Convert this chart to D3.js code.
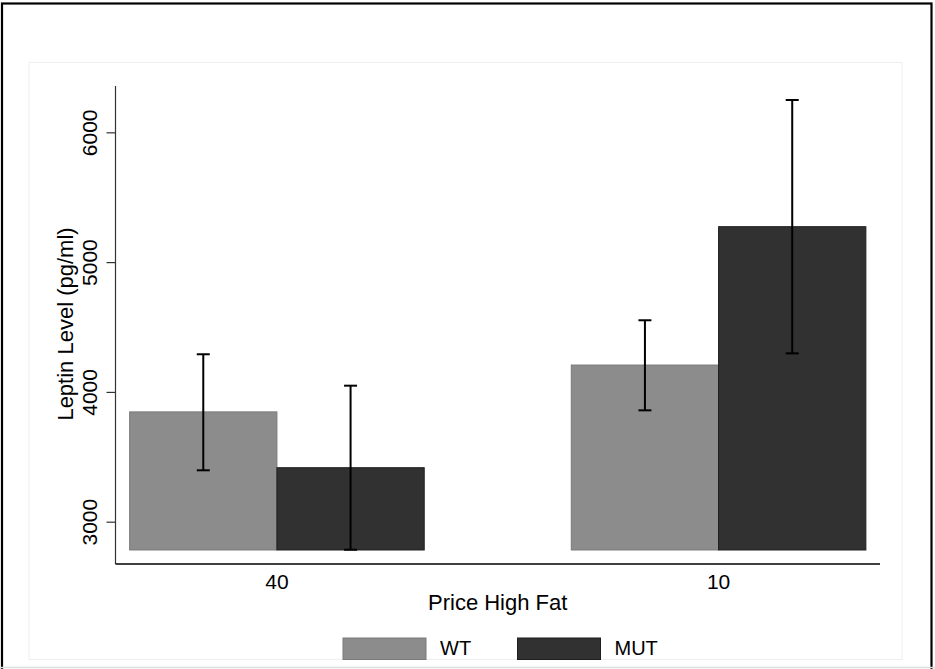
<!DOCTYPE html>
<html>
<head>
<meta charset="utf-8">
<script src="https://cdn.jsdelivr.net/npm/d3@7"></script>
<style>
  body { margin: 0; background: #fff; }
  svg { display: block; font-family: "Liberation Sans", Arial, sans-serif; }
</style>
</head>
<body>
<div id="chart"></div>
<script>
// chart data
var groups = ["40", "10"];
var series = ["WT", "MUT"];
var means = [[3846, 3416], [4207, 5273]];
var upper = [[4290, 4048], [4552, 6249]];
var lower = [[3396, 2784], [3858, 4297]];
var yTicks = [3000, 4000, 5000, 6000];
var barBase = 2782;
var colors = { WT: "#8c8c8c", MUT: "#313131" };
var strokes = { WT: "#7a7a7a", MUT: "#1e1e1e" };

var W = 935, H = 669;
var svg = d3.select("#chart").append("svg").attr("width", W).attr("height", H);

// outer frame
svg.append("rect").attr("x", 2).attr("y", 3.5).attr("width", 929.5).attr("height", 700)
  .attr("fill", "none").attr("stroke", "#000").attr("stroke-width", 2.2);
svg.append("line").attr("x1", 0).attr("x2", W).attr("y1", 667.5).attr("y2", 667.5)
  .attr("stroke", "#ddd").attr("stroke-width", 1.5);
// inner plot region
svg.append("rect").attr("x", 29).attr("y", 62.5).attr("width", 873).attr("height", 597)
  .attr("fill", "none").attr("stroke", "#eee").attr("stroke-width", 1);

var x0 = d3.scaleBand().domain(groups).range([115.5, 880]).paddingInner(0.333).paddingOuter(0.032);
var x1 = d3.scaleBand().domain(series).range([0, x0.bandwidth()]);
var y = d3.scaleLinear().domain([2674, 6357]).range([564, 86]);

// bars
groups.forEach(function(g, i) {
  series.forEach(function(s, j) {
    svg.append("rect")
      .attr("x", x0(g) + x1(s))
      .attr("y", y(means[i][j]))
      .attr("width", x1.bandwidth())
      .attr("height", y(barBase) - y(means[i][j]))
      .attr("fill", colors[s])
      .attr("stroke", strokes[s])
      .attr("stroke-width", 1);
  });
});

// error bars
groups.forEach(function(g, i) {
  series.forEach(function(s, j) {
    var cx = x0(g) + x1(s) + x1.bandwidth() / 2;
    var eb = svg.append("g").attr("stroke", "#000").attr("stroke-width", 2);
    eb.append("line").attr("x1", cx).attr("x2", cx).attr("y1", y(upper[i][j])).attr("y2", y(lower[i][j]));
    eb.append("line").attr("x1", cx - 6.5).attr("x2", cx + 6.5).attr("y1", y(upper[i][j])).attr("y2", y(upper[i][j]));
    eb.append("line").attr("x1", cx - 6.5).attr("x2", cx + 6.5).attr("y1", y(lower[i][j])).attr("y2", y(lower[i][j]));
  });
});

// y axis
var yAxis = svg.append("g").attr("transform", "translate(115.5,0)")
  .call(d3.axisLeft(y).tickValues(yTicks).tickSize(9).tickPadding(0).tickFormat(d3.format("d")));
yAxis.select(".domain").attr("stroke", "#333").attr("stroke-width", 1.2).attr("d", "M0,86V564");
yAxis.selectAll(".tick line").attr("stroke", "#333").attr("stroke-width", 1.2);
yAxis.selectAll(".tick text")
  .attr("transform", "rotate(-90)")
  .attr("x", 0).attr("y", -19).attr("dy", 0)
  .attr("text-anchor", "middle")
  .attr("font-size", 21).attr("fill", "#000");

// x axis
var xAxis = svg.append("g").attr("transform", "translate(0,564)")
  .call(d3.axisBottom(x0).tickSize(0).tickPadding(0));
xAxis.select(".domain").attr("stroke", "#000").attr("stroke-width", 1.5).attr("d", "M115.5,0H880");
xAxis.selectAll(".tick text").attr("y", 25).attr("dy", 0).attr("font-size", 21).attr("fill", "#000");

// axis titles
svg.append("text").attr("x", 497.7).attr("y", 610).attr("text-anchor", "middle")
  .attr("font-size", 22).text("Price High Fat");
svg.append("text").attr("transform", "translate(73,324) rotate(-90)").attr("text-anchor", "middle")
  .attr("font-size", 22).text("Leptin Level (pg/ml)");

// legend
var legX = [343, 517.5];
series.forEach(function(s, j) {
  svg.append("rect").attr("x", legX[j]).attr("y", 638).attr("width", 83).attr("height", 21.5)
    .attr("fill", colors[s]).attr("stroke", strokes[s]).attr("stroke-width", 1);
  svg.append("text").attr("x", legX[j] + 97).attr("y", 654.5).attr("font-size", 20).text(s);
});
</script>
</body>
</html>
